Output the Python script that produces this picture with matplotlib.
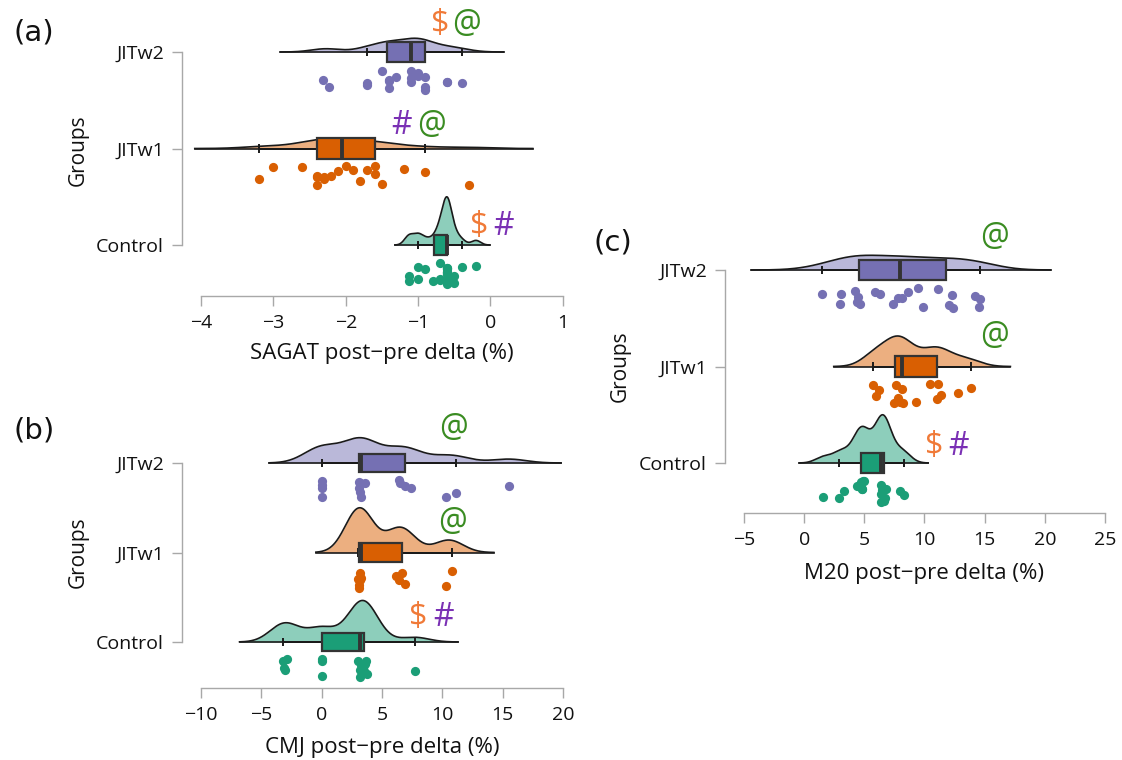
import numpy as np
import matplotlib
matplotlib.use("Agg")
import matplotlib.pyplot as plt
from matplotlib.patches import Rectangle

W, H = 1122, 760

groups = ["Control", "JITw1", "JITw2"]

# ---- data (post-pre deltas, %) ----
sagat_control = [-1.13, -1.12, -1.0, -1.0, -0.9, -0.8, -0.7, -0.7, -0.7, -0.6, -0.6,
                 -0.6, -0.6, -0.6, -0.6, -0.6, -0.6, -0.6, -0.5, -0.5, -0.4, -0.2]
sagat_jitw1 = [-3.2, -3.0, -2.6, -2.4, -2.4, -2.4, -2.3, -2.3, -2.2, -2.1, -2.0,
               -1.9, -1.8, -1.7, -1.6, -1.6, -1.5, -1.2, -0.9, -0.3]
sagat_jitw2 = [-2.32, -2.23, -1.7, -1.7, -1.5, -1.4, -1.4, -1.4, -1.3, -1.1, -1.1,
               -1.1, -1.0, -1.0, -0.9, -0.9, -0.9, -0.6, -0.6, -0.4]

cmj_control = [-3.2, -3.1, -3.0, -2.9, 0.0, 0.0, 0.0, 3.0, 3.2, 3.2, 3.3, 3.4,
               3.5, 3.6, 3.7, 3.8, 7.7]
cmj_jitw1 = [3.0, 3.1, 3.1, 3.1, 3.2, 3.2, 3.25, 6.2, 6.4, 6.7, 6.9, 10.3, 10.8]
cmj_jitw2 = [0.0, 0.0, 0.0, 0.0, 3.1, 3.1, 3.2, 3.2, 3.25, 3.6, 6.4, 6.5, 6.9,
             7.4, 10.3, 11.1, 15.5]

m20_control = [1.6, 2.9, 3.3, 4.4, 4.7, 4.8, 4.8, 4.9, 5.0, 6.35, 6.4, 6.4, 6.5,
               6.6, 6.6, 6.7, 6.8, 8.0, 8.3]
m20_jitw1 = [5.7, 6.0, 6.2, 7.5, 7.6, 7.8, 8.0, 8.1, 8.2, 9.3, 10.5, 11.0, 11.1,
             11.4, 12.8, 13.9]
m20_jitw2 = [1.5, 3.0, 3.1, 4.2, 4.4, 4.5, 4.6, 5.9, 6.3, 7.4, 7.8, 8.1, 8.6, 9.5,
             9.9, 11.1, 12.0, 12.3, 12.4, 14.2, 14.5, 14.6]

sagat_ticks = [-4, -3, -2, -1, 0, 1]
cmj_ticks = [-10, -5, 0, 5, 10, 15, 20]
m20_ticks = [-5, 0, 5, 10, 15, 20, 25]

# significance marks per group
sagat_marks = {"JITw2": ["$", "@"], "JITw1": ["#", "@"], "Control": ["$", "#"]}
cmj_marks = {"JITw2": ["@"], "JITw1": ["@"], "Control": ["$", "#"]}
m20_marks = {"JITw2": ["@"], "JITw1": ["@"], "Control": ["$", "#"]}

# ---- styles ----
dark = {"Control": "#1b9e77", "JITw1": "#d95f02", "JITw2": "#7570b3"}
light = {"Control": "#8dcebb", "JITw1": "#ecaf80", "JITw2": "#bab8d9"}
mark_col = {"$": "#f07a38", "@": "#3a8c22", "#": "#7a30b4"}
FONT = ["Open Sans", "DejaVu Sans"]
plt.rcParams["font.family"] = FONT
plt.rcParams["axes.unicode_minus"] = True


def nrd0(x):
    sd = x.std(ddof=1)
    q1, q3 = np.percentile(x, [25, 75])
    lo = min(sd, (q3 - q1) / 1.34)
    if lo <= 0:
        lo = sd
    return 0.9 * lo * len(x) ** -0.2


def kde(x, bw, n=600):
    grid = np.linspace(x.min() - 3 * bw, x.max() + 3 * bw, n)
    d = np.exp(-0.5 * ((grid[:, None] - x[None, :]) / bw) ** 2).sum(1)
    d /= len(x) * bw * np.sqrt(2 * np.pi)
    return grid, d


def raincloud(ax, data, marks, mark_pos, seed, bw_adj=None):
    bw_adj = bw_adj or {}
    dens = {}
    for g in groups:
        x = np.asarray(data[g], float)
        dens[g] = kde(x, nrd0(x) * bw_adj.get(g, 1.0))
    dmax = max(d.max() for _, d in dens.values())
    rng = np.random.default_rng(seed)
    for i, g in enumerate(groups):
        x = np.asarray(data[g], float)
        grid, d = dens[g]
        h = d / dmax * 0.5
        ax.fill_between(grid, i, i + h, color=light[g], lw=0, zorder=1)
        ax.plot(grid, i + h, color="#1a1a1a", lw=1.2, zorder=2)
        ax.plot([grid[0], grid[-1]], [i, i], color="#1a1a1a", lw=1.2, zorder=2)
        q1, med, q3 = np.percentile(x, [25, 50, 75])
        iqr = q3 - q1
        lo = x[x >= q1 - 1.5 * iqr].min()
        hi = x[x <= q3 + 1.5 * iqr].max()
        ax.plot([lo, hi], [i, i], color="#1a1a1a", lw=1.4, zorder=3)
        for w in (lo, hi):
            ax.plot([w, w], [i - 0.045, i + 0.045], color="#1a1a1a", lw=1.4,
                    zorder=3, solid_capstyle="butt")
        ax.add_patch(Rectangle((q1, i - 0.105), q3 - q1, 0.21,
                               facecolor=dark[g], edgecolor="#333333",
                               lw=1.6, zorder=4))
        ax.plot([med, med], [i - 0.105, i + 0.105], color="#333333", lw=2.8,
                zorder=5, solid_capstyle="butt")
        jit = rng.uniform(0.18, 0.40, len(x))
        ax.scatter(x, i - jit, s=44, color=dark[g], lw=0, zorder=6)
        xs, ys = mark_pos[g]
        for sym, xx in zip(marks[g], xs):
            ax.text(xx, i + ys, sym, color=mark_col[sym], fontsize=23,
                    ha="center", va="center", zorder=7, family=FONT)


def style(ax, ticks):
    for s in ("top", "right"):
        ax.spines[s].set_visible(False)
    for s in ("left", "bottom"):
        ax.spines[s].set_color("#a8a8a8")
        ax.spines[s].set_linewidth(1.0)
    ax.spines["left"].set_bounds(0, 2)
    ax.spines["bottom"].set_bounds(ticks[0], ticks[-1])
    ax.set_xticks(ticks)
    ax.set_xticklabels([f"{t}".replace("-", "\u2212") for t in ticks])
    ax.set_yticks(range(len(groups)))
    ax.set_yticklabels(groups)
    ax.tick_params(axis="both", colors="#a8a8a8", labelcolor="#111111",
                   labelsize=14, length=7, width=1.0, pad=6)


fig = plt.figure(figsize=(W / 100, H / 100), dpi=100)


def add_axes(left_px, right_px, top_px, bottom_px):
    return fig.add_axes([left_px / W, (H - bottom_px) / H,
                         (right_px - left_px) / W, (bottom_px - top_px) / H])


# panel (a)
axa = add_axes(182, 565, 5, 296)
raincloud(axa, {"Control": sagat_control, "JITw1": sagat_jitw1, "JITw2": sagat_jitw2},
          sagat_marks,
          {"JITw2": ([-0.70, -0.33], 0.28), "JITw1": ([-1.23, -0.82], 0.235),
           "Control": ([-0.15, 0.18], 0.19)}, seed=7)
axa.set_xlim(-4.262, 1.03)
axa.set_ylim(-0.528, 2.487)
style(axa, sagat_ticks)

# panel (b)
axb = add_axes(182, 565, 400, 688)
raincloud(axb, {"Control": cmj_control, "JITw1": cmj_jitw1, "JITw2": cmj_jitw2},
          cmj_marks,
          {"JITw2": ([10.94], 0.39), "JITw1": ([10.86], 0.34),
           "Control": ([8.04, 10.11], 0.27)}, seed=11,
          bw_adj={"JITw1": 0.8, "Control": 0.9})
axb.set_xlim(-11.57, 20.17)
axb.set_ylim(-0.514, 2.704)
style(axb, cmj_ticks)

# panel (c)
axc = add_axes(725, 1107, 215, 513)
raincloud(axc, {"Control": m20_control, "JITw1": m20_jitw1, "JITw2": m20_jitw2},
          m20_marks,
          {"JITw2": ([15.8], 0.34), "JITw1": ([15.8], 0.31),
           "Control": ([10.8, 12.8], 0.17)}, seed=5,
          bw_adj={"JITw1": 0.85, "Control": 0.97})
axc.set_xlim(-6.58, 25.17)
axc.set_ylim(-0.518, 2.57)
style(axc, m20_ticks)


def ftext(xp, yp, s, **kw):
    fig.text(xp / W, 1 - yp / H, s, ha="center", va="center", **kw)


ftext(382, 354, "SAGAT post\u2212pre delta (%)", fontsize=16, color="#111111")
ftext(382, 747, "CMJ post\u2212pre delta (%)", fontsize=16, color="#111111")
ftext(924, 574, "M20 post\u2212pre delta (%)", fontsize=16, color="#111111")
ftext(78, 150, "Groups", fontsize=15, rotation=90, color="#111111")
ftext(78, 552, "Groups", fontsize=15, rotation=90, color="#111111")
ftext(620, 366, "Groups", fontsize=15, rotation=90, color="#111111")
ftext(34, 32, "(a)", fontsize=21, color="#111111", family=["DejaVu Sans"])
ftext(34, 430, "(b)", fontsize=21, color="#111111", family=["DejaVu Sans"])
ftext(613, 243, "(c)", fontsize=21, color="#111111", family=["DejaVu Sans"])

fig.savefig("out.png", dpi=100)
